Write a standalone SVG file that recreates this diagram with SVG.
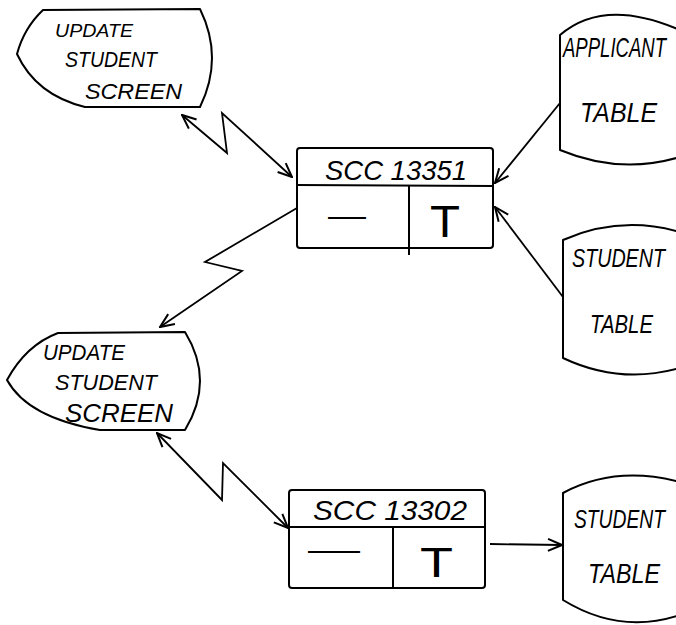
<svg xmlns="http://www.w3.org/2000/svg" width="676" height="625" viewBox="0 0 676 625">
  <style>
    .shape { fill: #fff; stroke: #000; stroke-width: 2; stroke-linejoin: round; }
    .rule { fill: none; stroke: #000; stroke-width: 2; }
    .edge { fill: none; stroke: #000; stroke-width: 1.8; stroke-linejoin: miter; }
    .lbl { font-family: "Liberation Sans", "DejaVu Sans", sans-serif; fill: #000; font-style: italic; }
    .mark { font-family: "Liberation Sans", "DejaVu Sans", sans-serif; fill: #000; }
  </style>
  <defs>
    <marker id="arrow" viewBox="0 0 16 16" refX="15" refY="8" markerWidth="16" markerHeight="16" markerUnits="userSpaceOnUse" orient="auto-start-reverse">
      <path d="M1,2 L15,8 L1,14" fill="none" stroke="#000" stroke-width="2"/>
    </marker>
  </defs>
  <rect width="676" height="625" fill="#fff"/>

  <!-- screen: update student (upper) -->
  <g id="screen-upper">
    <path class="shape" d="M43,10 L200,9 Q224,58 200,107 L85,107 Q36,95 17,54 Q24,28 43,10 Z"/>
    <text class="lbl" x="55" y="37" font-size="19" textLength="78" lengthAdjust="spacingAndGlyphs">UPDATE</text>
    <text class="lbl" x="65" y="67" font-size="22" textLength="92" lengthAdjust="spacingAndGlyphs">STUDENT</text>
    <text class="lbl" x="85" y="99" font-size="22" textLength="97" lengthAdjust="spacingAndGlyphs">SCREEN</text>
  </g>

  <!-- program box SCC 13351 -->
  <g id="scc13351">
    <rect class="shape" x="297" y="148" width="196" height="100" rx="3"/>
    <line class="rule" x1="297" y1="185" x2="493" y2="186"/>
    <line class="rule" x1="409" y1="186" x2="409" y2="255"/>
    <text class="lbl" x="325" y="180" font-size="28" textLength="142" lengthAdjust="spacingAndGlyphs">SCC 13351</text>
    <text class="mark" x="328" y="226" font-size="30" textLength="38" lengthAdjust="spacingAndGlyphs">—</text>
    <text class="mark" x="430" y="237" font-size="44" textLength="30" lengthAdjust="spacingAndGlyphs">T</text>
  </g>

  <!-- applicant table -->
  <g id="applicant-table">
    <path class="shape" d="M680,30 Q604,-3 560,35 L560,150 Q620,175 680,157 Z"/>
    <text class="lbl" x="563" y="57" font-size="28" textLength="103" lengthAdjust="spacingAndGlyphs">APPLICANT</text>
    <text class="lbl" x="580" y="122" font-size="28" textLength="77" lengthAdjust="spacingAndGlyphs">TABLE</text>
  </g>

  <!-- student table (upper) -->
  <g id="student-table-upper">
    <path class="shape" d="M680,232 Q620,215 563,240 L563,358 Q620,385 680,368 Z"/>
    <text class="lbl" x="572" y="267" font-size="26" textLength="93" lengthAdjust="spacingAndGlyphs">STUDENT</text>
    <text class="lbl" x="590" y="333" font-size="26" textLength="63" lengthAdjust="spacingAndGlyphs">TABLE</text>
  </g>

  <!-- screen: update student (lower) -->
  <g id="screen-lower">
    <path class="shape" d="M58,333 L185,332 Q215,381 185,430 L100,430 Q28,418 7,380 Q26,345 58,333 Z"/>
    <text class="lbl" x="43" y="360" font-size="22" textLength="82" lengthAdjust="spacingAndGlyphs">UPDATE</text>
    <text class="lbl" x="55" y="390" font-size="22" textLength="102" lengthAdjust="spacingAndGlyphs">STUDENT</text>
    <text class="lbl" x="65" y="422" font-size="25" textLength="108" lengthAdjust="spacingAndGlyphs">SCREEN</text>
  </g>

  <!-- program box SCC 13302 -->
  <g id="scc13302">
    <rect class="shape" x="289" y="490" width="196" height="98" rx="3"/>
    <line class="rule" x1="289" y1="527" x2="485" y2="527"/>
    <line class="rule" x1="393" y1="527" x2="393" y2="588"/>
    <text class="lbl" x="313" y="520" font-size="28" textLength="154" lengthAdjust="spacingAndGlyphs">SCC 13302</text>
    <text class="mark" x="308" y="560" font-size="30" textLength="52" lengthAdjust="spacingAndGlyphs">—</text>
    <text class="mark" x="420" y="577" font-size="42" textLength="33" lengthAdjust="spacingAndGlyphs">T</text>
  </g>

  <!-- student table (lower) -->
  <g id="student-table-lower">
    <path class="shape" d="M680,482 Q615,465 563,493 L563,600 Q620,635 680,615 Z"/>
    <text class="lbl" x="574" y="528" font-size="26" textLength="91" lengthAdjust="spacingAndGlyphs">STUDENT</text>
    <text class="lbl" x="588" y="583" font-size="28" textLength="72" lengthAdjust="spacingAndGlyphs">TABLE</text>
  </g>

  <!-- connectors -->
  <g id="connectors">
    <polyline class="edge" points="182,115 227,153 222,113 292,177" marker-start="url(#arrow)" marker-end="url(#arrow)"/>
    <polyline class="edge" points="297,208 205,262 242,271 160,327" marker-end="url(#arrow)"/>
    <polyline class="edge" points="157,433 222,500 223,463 288,528" marker-start="url(#arrow)" marker-end="url(#arrow)"/>
    <line class="edge" x1="560" y1="103" x2="495" y2="183" marker-end="url(#arrow)"/>
    <line class="edge" x1="563" y1="297" x2="495" y2="207" marker-end="url(#arrow)"/>
    <line class="edge" x1="490" y1="544" x2="562" y2="545" marker-end="url(#arrow)"/>
  </g>
</svg>
